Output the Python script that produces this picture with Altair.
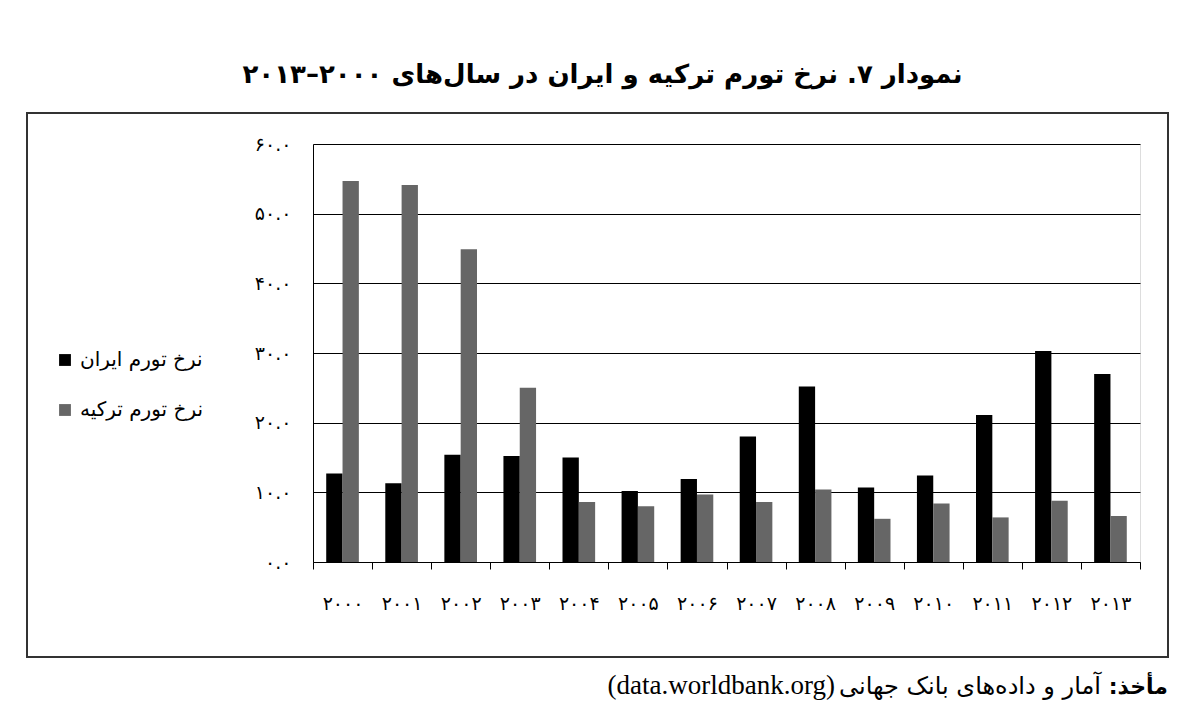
import json
import altair as alt
import pandas as pd

# ---------------- data ----------------
YEARS = ["۲۰۰۰", "۲۰۰۱", "۲۰۰۲", "۲۰۰۳", "۲۰۰۴", "۲۰۰۵", "۲۰۰۶",
         "۲۰۰۷", "۲۰۰۸", "۲۰۰۹", "۲۰۱۰", "۲۰۱۱", "۲۰۱۲", "۲۰۱۳"]
SERIES = ["نرخ تورم ایران", "نرخ تورم ترکیه"]
IRAN = [12.7, 11.3, 15.4, 15.2, 15.0, 10.2, 11.9, 18.0, 25.2, 10.7, 12.4, 21.1, 30.3, 27.0]
TURKEY = [54.7, 54.1, 44.9, 25.0, 8.6, 8.0, 9.7, 8.6, 10.4, 6.2, 8.4, 6.4, 8.8, 6.6]
Y_TICKS = [0, 10, 20, 30, 40, 50, 60]
Y_TICK_LABELS = ["۰.۰", "۱۰.۰", "۲۰.۰", "۳۰.۰", "۴۰.۰", "۵۰.۰", "۶۰.۰"]
COLORS = ["#000000", "#666666"]

RLE, PDF = "\u202b", "\u202c"
TITLE = RLE + "نمودار ۷. نرخ تورم ترکیه و ایران در سال‌های ۲۰۰۰–۲۰۱۳" + PDF
SOURCE_BOLD = ["مأخذ:\u200f"]
SOURCE_FA = [RLE + "آمار و داده‌های بانک جهانی" + PDF]
SOURCE_EN = ["(data.worldbank.org)"]

rows = []
for i, yr in enumerate(YEARS):
    rows.append({"year": yr, "series": SERIES[0], "value": IRAN[i]})
    rows.append({"year": yr, "series": SERIES[1], "value": TURKEY[i]})
df = pd.DataFrame(rows)

FA = "DejaVu Sans"
W, H = 827, 418

label_expr = json.dumps(Y_TICK_LABELS, ensure_ascii=False) + "[round(datum.value/10)]"

bars = alt.Chart(df).mark_bar().encode(
    x=alt.X("year:N", sort=YEARS,
            scale=alt.Scale(paddingInner=0, paddingOuter=0),
            axis=alt.Axis(title=None, labelAngle=0, tickBand="extent",
                          ticks=True, tickSize=7, tickColor="#000",
                          domainColor="#000", labelFont=FA, labelFontSize=19,
                          labelColor="#000", labelPadding=25, grid=False)),
    xOffset=alt.XOffset("series:N", sort=SERIES,
                        scale=alt.Scale(paddingInner=0, paddingOuter=0.81)),
    y=alt.Y("value:Q", scale=alt.Scale(domain=[0, 60], nice=False),
            axis=alt.Axis(title=None, values=Y_TICKS, labelExpr=label_expr,
                          grid=True, gridColor="#000", gridOpacity=1,
                          ticks=False, domainColor="#000",
                          labelFont=FA, labelFontSize=19, labelColor="#000",
                          labelPadding=22)),
    color=alt.Color("series:N", sort=SERIES,
                    scale=alt.Scale(domain=SERIES, range=COLORS),
                    legend=alt.Legend(title=None, orient="none",
                                      legendX=-258, legendY=206,
                                      symbolType="square", symbolSize=140,
                                      symbolStrokeWidth=0, labelFont=FA,
                                      labelFontSize=20, labelColor="#000",
                                      labelOffset=5, rowPadding=30)),
)

frame = alt.Chart(pd.DataFrame({"k": [0]})).mark_rect(
    fill=None, stroke="#333", strokeWidth=2
).encode(x=alt.value(-286), x2=alt.value(855), y=alt.value(-31), y2=alt.value(513))

src_bold = alt.Chart(pd.DataFrame({"t": SOURCE_BOLD})).mark_text(
    align="right", baseline="middle", font=FA, fontSize=22, fontWeight="bold", color="#000"
).encode(text="t:N", x=alt.value(855), y=alt.value(543))

src_fa = alt.Chart(pd.DataFrame({"t": SOURCE_FA})).mark_text(
    align="right", baseline="middle", font=FA, fontSize=24, color="#000"
).encode(text="t:N", x=alt.value(788), y=alt.value(543))

src_en = alt.Chart(pd.DataFrame({"t": SOURCE_EN})).mark_text(
    align="right", baseline="middle", font="Liberation Serif", fontSize=27, color="#000"
).encode(text="t:N", x=alt.value(522), y=alt.value(542))

chart = alt.layer(frame, bars, src_bold, src_fa, src_en).properties(
    width=W, height=H,
    title=alt.Title(TITLE, anchor="middle", dx=-124, offset=24,
                    font=FA, fontSize=26, fontWeight="bold", color="#000"),
    autosize=alt.AutoSizeParams(type="none"),
    padding={"left": 305, "top": 136, "right": 52, "bottom": 141},
).configure_view(stroke=None).configure(background="#ffffff")

chart.save("out.html", embed_options={"renderer": "svg", "actions": False})
